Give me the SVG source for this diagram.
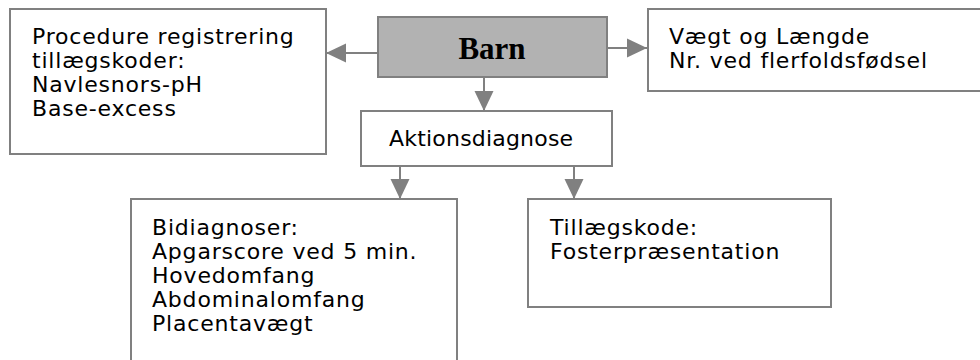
<svg xmlns="http://www.w3.org/2000/svg" width="980" height="360" viewBox="0 0 980 360">
  <style>
    .box { fill: #ffffff; stroke: #808080; stroke-width: 2; }
    .main { fill: #b2b2b2; stroke: #808080; stroke-width: 2; }
    .t { font-family: "DejaVu Sans", Verdana, sans-serif; font-size: 22px; letter-spacing: 0.8px; fill: #000000; }
    .title { font-family: "Liberation Serif", "Times New Roman", serif; font-size: 31px; font-weight: bold; fill: #000000; }
    .conn { stroke: #808080; stroke-width: 2; fill: none; marker-end: url(#arrow); }
  </style>
  <defs>
    <marker id="arrow" viewBox="0 0 20 20" refX="20" refY="10" markerWidth="20" markerHeight="20" markerUnits="userSpaceOnUse" orient="auto">
      <path d="M0,0.5 L20,10 L0,19.5 z" fill="#808080"/>
    </marker>
  </defs>
  <rect width="980" height="360" fill="#ffffff"/>

  <g id="connectors">
    <path class="conn" d="M378,53 L326,53"/>
    <path class="conn" d="M607,48 L647,48"/>
    <path class="conn" d="M484,77 L484,111"/>
    <path class="conn" d="M400,166 L400,199"/>
    <path class="conn" d="M574,166 L574,199"/>
  </g>

  <g id="procedure">
    <rect class="box" x="10" y="9" width="316" height="145"/>
    <text class="t" x="32" y="44">Procedure registrering</text>
    <text class="t" x="32" y="68">tillægskoder:</text>
    <text class="t" x="32" y="92">Navlesnors-pH</text>
    <text class="t" x="32" y="116">Base-excess</text>
  </g>

  <g id="barn">
    <rect class="main" x="378" y="17" width="229" height="60"/>
    <text class="title" x="492" y="59" text-anchor="middle">Barn</text>
  </g>

  <g id="vaegt">
    <rect class="box" x="648" y="9" width="340" height="82"/>
    <text class="t" x="669" y="44">Vægt og Længde</text>
    <text class="t" x="669" y="68">Nr. ved flerfoldsfødsel</text>
  </g>

  <g id="aktionsdiagnose">
    <rect class="box" x="361" y="111" width="251" height="55"/>
    <text class="t" x="389" y="146" style="letter-spacing:0.2px">Aktionsdiagnose</text>
  </g>

  <g id="bidiagnoser">
    <rect class="box" x="131" y="199" width="326" height="175"/>
    <text class="t" x="152" y="235">Bidiagnoser:</text>
    <text class="t" x="152" y="259">Apgarscore ved 5 min.</text>
    <text class="t" x="152" y="283">Hovedomfang</text>
    <text class="t" x="152" y="307">Abdominalomfang</text>
    <text class="t" x="152" y="331">Placentavægt</text>
  </g>

  <g id="tillaegskode">
    <rect class="box" x="528" y="199" width="303" height="108"/>
    <text class="t" x="550" y="235">Tillægskode:</text>
    <text class="t" x="550" y="259">Fosterpræsentation</text>
  </g>
</svg>
